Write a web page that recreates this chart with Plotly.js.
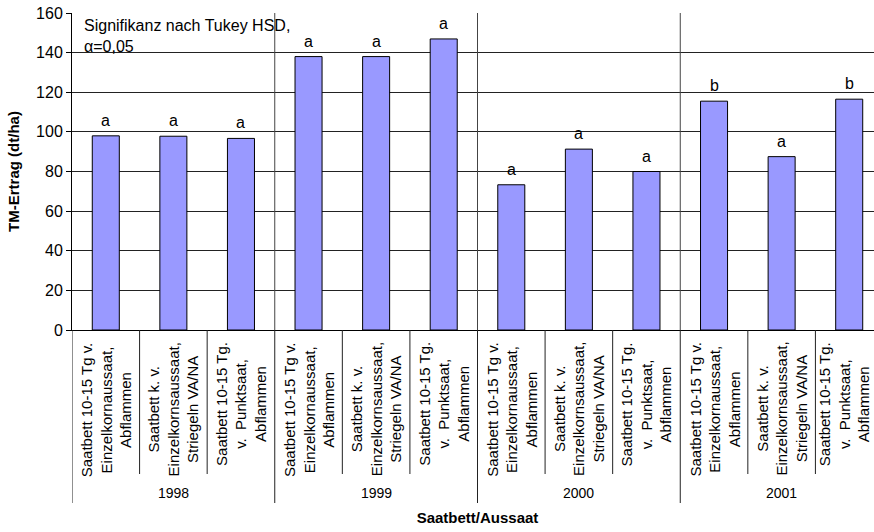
<!DOCTYPE html>
<html>
<head>
<meta charset="utf-8">
<script src="https://cdn.plot.ly/plotly-3.0.1.min.js"></script>
<style>
html,body{margin:0;padding:0;overflow:hidden;background:#fff;}
#chart{width:893px;height:532px;}
</style>
</head>
<body>
<div id="chart"></div>
<script>
// ---- data ----
const categoryLines = [
  ["Saatbett 10-15 Tg v.", "Einzelkornaussaat,", "Abflammen"],
  ["Saatbett k. v.", "Einzelkornsaussaat,", "Striegeln VA/NA"],
  ["Saatbett 10-15 Tg.", "v. \u00a0Punktsaat,", "Abflammen"],
  ["Saatbett 10-15 Tg v.", "Einzelkornaussaat,", "Abflammen"],
  ["Saatbett k. v.", "Einzelkornsaussaat,", "Striegeln VA/NA"],
  ["Saatbett 10-15 Tg.", "v. \u00a0Punktsaat,", "Abflammen"],
  ["Saatbett 10-15 Tg v.", "Einzelkornaussaat,", "Abflammen"],
  ["Saatbett k. v.", "Einzelkornsaussaat,", "Striegeln VA/NA"],
  ["Saatbett 10-15 Tg.", "v. \u00a0Punktsaat,", "Abflammen"],
  ["Saatbett 10-15 Tg v.", "Einzelkornaussaat,", "Abflammen"],
  ["Saatbett k. v.", "Einzelkornsaussaat,", "Striegeln VA/NA"],
  ["Saatbett 10-15 Tg.", "v. \u00a0Punktsaat,", "Abflammen"]
];
const years = ["1998", "1999", "2000", "2001"];
const perYear = 3;
const yields = [98.0, 97.8, 96.7, 138.0, 138.0, 146.9, 73.3, 91.3, 80.0, 115.5, 87.5, 116.5];
const letters = ["a", "a", "a", "a", "a", "a", "a", "a", "a", "b", "a", "b"];
const yTicks = [0, 20, 40, 60, 80, 100, 120, 140, 160];
const noteText = "Signifikanz nach Tukey HSD,<br>\u03b1=0,05";
const xTitle = "Saatbett/Aussaat";
const yTitle = "TM-Ertrag (dt/ha)";

// ---- layout helpers ----
const H = 532, MT = 13, MB = 202;
const plotBottom = H - MB, plotH = H - MT - MB;
function py(px) { return (plotBottom - px) / plotH; }

const xIdx = categoryLines.map((c, i) => i);
const FONT = "Liberation Sans, Arial, sans-serif";

const trace = {
  type: "bar",
  x: xIdx,
  y: yields,
  width: 0.4,
  marker: { color: "#9999FF", line: { color: "#000000", width: 1 } },
  hoverinfo: "skip"
};

const annotations = [];
// significance letters
xIdx.forEach((i) => {
  annotations.push({
    x: i, y: yields[i], xref: "x", yref: "y",
    text: letters[i], showarrow: false, yanchor: "bottom", yshift: 5,
    font: { size: 16, color: "#000", family: FONT }
  });
});
// category labels (rotated)
categoryLines.forEach((lines, i) => {
  annotations.push({
    x: i, xref: "x", y: py(340), yref: "paper",
    text: lines.join("<br>"), showarrow: false, textangle: -90,
    xanchor: "center", yanchor: "top", align: "center",
    xshift: i === categoryLines.length - 1 ? -5 : 0,
    font: { size: 15, color: "#000", family: FONT }
  });
});
// year labels
years.forEach((yr, k) => {
  annotations.push({
    x: k * perYear + (perYear - 1) / 2, xref: "x", y: py(493), yref: "paper",
    text: yr, showarrow: false, xanchor: "center", yanchor: "middle",
    font: { size: 14, color: "#000", family: FONT }
  });
});
// note
annotations.push({
  x: 10 / 811, xref: "paper", y: py(15), yref: "paper",
  text: noteText, showarrow: false, xanchor: "left", yanchor: "top", align: "left",
  font: { size: 16, color: "#000", family: FONT }
});

const shapes = [];
// year separators inside plot
for (let k = 1; k < years.length; k++) {
  const xb = k * perYear - 0.5;
  shapes.push({ type: "line", xref: "x", yref: "y", x0: xb, x1: xb, y0: 0, y1: 160,
    line: { color: "#444", width: 1 } });
}
// dividers below axis
for (let b = 0; b <= categoryLines.length; b++) {
  const xb = b - 0.5;
  const isYear = b % perYear === 0;
  shapes.push({ type: "line", xref: "x", yref: "paper", x0: xb, x1: xb,
    y0: py(330), y1: py(isYear ? 503 : 474),
    line: { color: "#222", width: 1 } });
}

const layout = {
  width: 893, height: H,
  margin: { l: 72, r: 10, t: MT, b: MB },
  paper_bgcolor: "#fff", plot_bgcolor: "#fff",
  font: { family: FONT, color: "#000" },
  showlegend: false,
  bargap: 0.6,
  xaxis: {
    range: [-0.5, categoryLines.length - 0.5],
    showticklabels: false, ticks: "", showgrid: false, zeroline: false,
    showline: true, linecolor: "#000", linewidth: 1,
    title: { text: "<b>" + xTitle + "</b>", font: { size: 15, family: FONT, color: "#000" }, standoff: 182 }
  },
  yaxis: {
    range: [0, 160], tickvals: yTicks, ticktext: yTicks.map(String),
    ticks: "outside", ticklen: 5, tickcolor: "#000",
    tickfont: { size: 16, family: FONT, color: "#000" },
    showgrid: true, gridcolor: "#222", gridwidth: 1, zeroline: false,
    showline: true, linecolor: "#000", linewidth: 1,
    title: { text: "<b>" + yTitle + "</b>", font: { size: 15, family: FONT, color: "#000" }, standoff: 12 }
  },
  annotations: annotations,
  shapes: shapes
};

Plotly.newPlot("chart", [trace], layout, { staticPlot: true, displayModeBar: false });
</script>
</body>
</html>
